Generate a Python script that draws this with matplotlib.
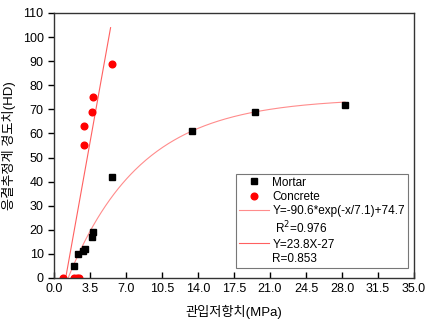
import numpy as np
import matplotlib
matplotlib.use("Agg")
import matplotlib.pyplot as plt
from matplotlib.lines import Line2D

plt.rcParams['font.family'] = ['Liberation Sans', 'Noto Sans CJK KR', 'DejaVu Sans']

# mortar data (penetration resistance MPa, hardness HD)
mortar_x = [1.95, 2.35, 2.85, 3.0, 3.7, 3.75, 5.6, 13.4, 19.5, 28.3]
mortar_y = [5, 10, 11, 12, 17, 19, 42, 61, 69, 72]

# concrete data
concrete_x = [0.9, 1.9, 2.2, 2.4, 2.9, 2.9, 3.7, 3.75, 5.6]
concrete_y = [0, 0, 0, 0, 55, 63, 69, 75, 89]

# fitted curves
exp_a, exp_t, exp_c = -90.6, 7.1, 74.7
lin_a, lin_b = 23.8, -27

fig = plt.figure(figsize=(4.27, 3.24), dpi=100)
ax = fig.add_axes([0.1265, 0.142, 0.843, 0.818])

xe = np.linspace(-exp_t * np.log(-exp_c / exp_a), 28.3, 200)
ye = exp_a * np.exp(-xe / exp_t) + exp_c
l_exp, = ax.plot(xe, ye, color='#ff8c8c', lw=0.8)

xl = np.linspace(-lin_b / lin_a, 5.5, 50)
yl = lin_a * xl + lin_b
l_lin, = ax.plot(xl, yl, color='#ff6060', lw=0.8)

m_mortar, = ax.plot(mortar_x, mortar_y, 's', color='black', ms=4.2, ls='none')
m_conc, = ax.plot(concrete_x, concrete_y, 'o', color='red', ms=4.8, ls='none')

ax.set_xlim(0, 35)
ax.set_ylim(0, 110)
ax.set_xticks(np.arange(0, 35.1, 3.5))
ax.set_xticklabels(['%.1f' % v for v in np.arange(0, 35.1, 3.5)])
ax.set_yticks(np.arange(0, 111, 10))
ax.tick_params(axis='x', direction='in', length=4, labelsize=9, width=1)
ax.tick_params(axis='y', direction='out', length=4, labelsize=9, width=1)
for s in ax.spines.values():
    s.set_color('#333333')
    s.set_linewidth(1.0)

ax.set_xlabel('관입저항치(MPa)', fontsize=9.5, labelpad=7)
ax.set_ylabel('응결추정계 경도치(HD)', fontsize=9.5, labelpad=5)

blank = Line2D([], [], color='none')
handles = [m_mortar, m_conc, l_exp, blank, l_lin, blank]
labels = ['Mortar', 'Concrete', 'Y=-90.6*exp(-x/7.1)+74.7', ' R$^2$=0.976',
          'Y=23.8X-27', 'R=0.853']
leg = ax.legend(handles, labels, loc='lower right', bbox_to_anchor=(0.983, 0.038),
                borderaxespad=0, fontsize=8.5, fancybox=False, framealpha=1,
                edgecolor='#777777', handlelength=2.6, labelspacing=0.2,
                borderpad=0.25, handletextpad=0.25, markerscale=1.0)
leg.get_frame().set_linewidth(0.8)

fig.savefig('out.png', dpi=100)
